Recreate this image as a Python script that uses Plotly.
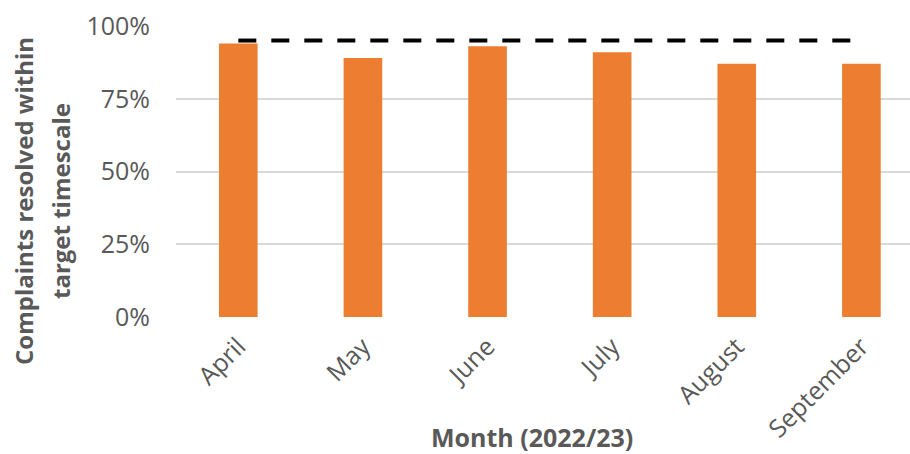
import plotly.graph_objects as go

months = ["April", "May", "June", "July", "August", "September"]
resolved_pct = [94, 89, 93, 91, 87, 87]
target_pct = [95, 95, 95, 95, 95, 95]
y_ticks = [0, 25, 50, 75, 100]
y_tick_labels = ["0%", "25%", "50%", "75%", "100%"]

FONT = "Open Sans"
GREY = "#595959"
TICK_SIZE = 25
TITLE_SIZE = 24

fig = go.Figure()
fig.add_trace(go.Bar(
    x=list(range(len(months))), y=resolved_pct, width=0.31,
    marker=dict(color="#ED7D31", line=dict(width=0)),
    showlegend=False,
))
fig.add_trace(go.Scatter(
    x=list(range(len(months))), y=target_pct, mode="lines",
    line=dict(color="black", width=4, dash="18px,15px"),
    showlegend=False,
))

ML, MR, MT, MB = 176, 0, 26, 137
fig.update_layout(
    template="none",
    width=910, height=454,
    margin=dict(l=ML, r=MR, t=MT, b=MB, autoexpand=False),
    paper_bgcolor="white", plot_bgcolor="white",
    font=dict(family=FONT, color=GREY, size=TICK_SIZE),
    xaxis=dict(
        range=[-0.5, 5.39], tickmode="array",
        tickvals=list(range(len(months))), ticktext=months,
        tickangle=-45, showgrid=False, zeroline=False, showline=False,
        ticks="", automargin=False, ticklabelstandoff=9,
        tickfont=dict(size=TICK_SIZE, color=GREY, family=FONT),
    ),
    yaxis=dict(
        range=[0, 100], tickmode="array", tickvals=y_ticks, ticktext=y_tick_labels,
        showgrid=True, gridcolor="#D9D9D9", gridwidth=1.5, zeroline=False,
        showline=False, ticks="", automargin=False,
        tickfont=dict(size=TICK_SIZE, color=GREY, family=FONT),
        ticklabelstandoff=25,
    ),
    annotations=[
        dict(text="<b>Complaints resolved within</b>", x=23, y=201,
             showarrow=False, textangle=-90, font=dict(size=TITLE_SIZE, color=GREY, family=FONT)),
        dict(text="<b>target timescale</b>", x=60, y=201,
             showarrow=False, textangle=-90, font=dict(size=TITLE_SIZE, color=GREY, family=FONT)),
        dict(text="<b>Month (2022/23)</b>", x=532, y=437,
             showarrow=False, font=dict(size=25, color=GREY, family=FONT)),
    ],
)

# convert pixel positions of annotations into paper coordinates
pw = 910 - ML - MR
ph = 454 - MT - MB
for a in fig.layout.annotations:
    px, py = a.x, a.y
    a.xref = "paper"
    a.yref = "paper"
    a.x = (px - ML) / pw
    a.y = (454 - MB - py) / ph
    a.xanchor = "center"
    a.yanchor = "middle"

fig.write_html(
    "out.html",
    config={"displayModeBar": False},
    post_script="document.body.style.margin='0';document.body.style.overflow='hidden';",
)
